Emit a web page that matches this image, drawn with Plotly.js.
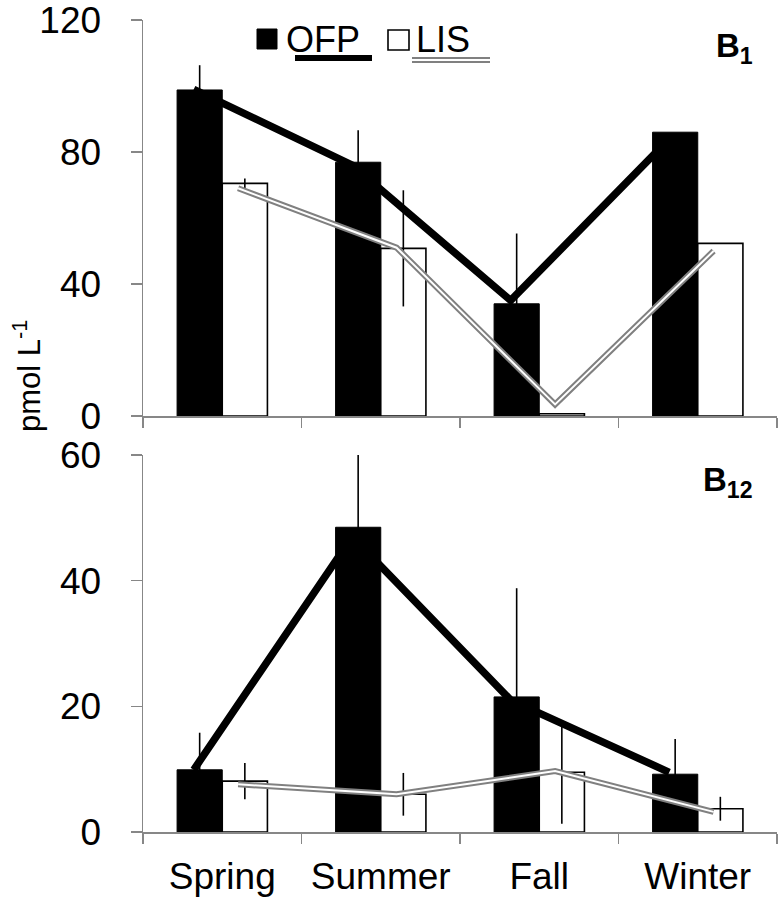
<!DOCTYPE html>
<html>
<head>
<meta charset="utf-8">
<script src="https://cdn.plot.ly/plotly-3.0.1.min.js"></script>
<style>html,body{margin:0;padding:0;background:#fff;}#chart{width:784px;height:904px;}</style>
</head>
<body>
<div id="chart"></div>
<script>
// ---- data ----
const categories = ['Spring', 'Summer', 'Fall', 'Winter'];

// Panel B1 (pmol L-1)
const b1Ofp = [98.8, 76.9, 34.0, 86.0];
const b1OfpErr = [7.5, 9.7, 21.3, 0];
const b1Lis = [70.5, 50.8, 0.7, 52.3];
const b1LisErr = [1.5, 17.6, 0, 0];
const b1OfpLine = [99, 76, 35, 84];
const b1LisLine = [69, 51, 3.5, 50];

// Panel B12 (pmol L-1)
const b12Ofp = [9.9, 48.5, 21.5, 9.2];
const b12OfpErr = [5.9, 11.5, 17.3, 5.6];
const b12Lis = [8.1, 6.0, 9.5, 3.7];
const b12LisErr = [2.9, 3.4, 8.2, 1.9];
const b12OfpLine = [9.9, 47, 21, 9.5];
const b12LisLine = [7.6, 6.0, 9.7, 3.2];

const b1Ticks = [0, 40, 80, 120];
const b12Ticks = [0, 20, 40, 60];

// ---- styling ----
const W = 784, H = 904;
const M = {l: 143, r: 7, t: 20, b: 72};
const FONT = 'Liberation Sans, Arial, sans-serif';
const AXIS = '#878787';
const LISGREY = '#808080';
const ofpShift = -0.18, lisShift = 0.10;
const idx = categories.map((c, i) => i);

function px2x(p) { return (p - M.l) / (W - M.l - M.r); }
function px2y(p) { return (H - M.b - p) / (H - M.t - M.b); }

function barTraces(ofp, ofpErr, lis, lisErr, xa, ya) {
  return [
    {type: 'bar', x: categories, y: ofp, xaxis: xa, yaxis: ya, name: 'OFP', showlegend: false,
     marker: {color: '#000', line: {color: '#000', width: 1}},
     error_y: {type: 'data', array: ofpErr, visible: true, color: '#000', thickness: 1.6, width: 0}},
    {type: 'bar', x: categories, y: lis, xaxis: xa, yaxis: ya, name: 'LIS', showlegend: false,
     marker: {color: '#fff', line: {color: '#000', width: 1.6}},
     error_y: {type: 'data', array: lisErr, visible: true, color: '#000', thickness: 1.6, width: 0}}
  ];
}
function lineTraces(ofpLine, lisLine, xa, ya) {
  return [
    {type: 'scatter', mode: 'lines', x: idx.map(i => i + ofpShift), y: ofpLine, xaxis: xa, yaxis: ya,
     line: {color: '#000', width: 7.5}, showlegend: false, hoverinfo: 'skip'},
    {type: 'scatter', mode: 'lines', x: idx.map(i => i + lisShift), y: lisLine, xaxis: xa, yaxis: ya,
     line: {color: LISGREY, width: 6}, showlegend: false, hoverinfo: 'skip'},
    {type: 'scatter', mode: 'lines', x: idx.map(i => i + lisShift), y: lisLine, xaxis: xa, yaxis: ya,
     line: {color: '#fff', width: 2}, showlegend: false, hoverinfo: 'skip'}
  ];
}

const data = [].concat(
  barTraces(b1Ofp, b1OfpErr, b1Lis, b1LisErr, 'x', 'y'),
  barTraces(b12Ofp, b12OfpErr, b12Lis, b12LisErr, 'x2', 'y2'),
  lineTraces(b1OfpLine, b1LisLine, 'x3', 'y'),
  lineTraces(b12OfpLine, b12LisLine, 'x4', 'y2')
);

const tickFont = {family: FONT, size: 37, color: '#000'};
function catAxis(anchor, labels) {
  return {anchor: anchor, type: 'category', categoryorder: 'array', categoryarray: categories,
    range: [-0.5, 3.5], tickson: 'boundaries', ticks: 'outside', ticklen: 10, tickwidth: 1.5,
    tickcolor: AXIS, showline: true, linecolor: AXIS, linewidth: 1.5, showgrid: false,
    zeroline: false, showticklabels: labels, tickfont: tickFont, ticklabelstandoff: 11,
    ticklabeloverflow: 'allow', fixedrange: true};
}
function valAxis(anchor, dom, rng, tv) {
  return {anchor: anchor, domain: dom, range: rng, tickvals: tv, ticktext: tv.map(String),
    ticks: 'outside', ticklen: 11, tickwidth: 1.5, tickcolor: AXIS, showline: true,
    linecolor: AXIS, linewidth: 1.5, showgrid: false, zeroline: false, tickfont: tickFont,
    ticklabelstandoff: 22, ticklabeloverflow: 'allow', fixedrange: true};
}

const legendShapes = [
  {type: 'rect', xref: 'paper', yref: 'paper', x0: px2x(257), x1: px2x(277), y0: px2y(49), y1: px2y(29),
   fillcolor: '#000', line: {color: '#000', width: 1}},
  {type: 'line', xref: 'paper', yref: 'paper', x0: px2x(295), x1: px2x(372), y0: px2y(58), y1: px2y(58),
   line: {color: '#000', width: 6}},
  {type: 'rect', xref: 'paper', yref: 'paper', x0: px2x(388), x1: px2x(409), y0: px2y(50), y1: px2y(30),
   fillcolor: '#fff', line: {color: '#000', width: 1.6}},
  {type: 'line', xref: 'paper', yref: 'paper', x0: px2x(412), x1: px2x(490), y0: px2y(60), y1: px2y(60),
   line: {color: LISGREY, width: 6}},
  {type: 'line', xref: 'paper', yref: 'paper', x0: px2x(412), x1: px2x(490), y0: px2y(60), y1: px2y(60),
   line: {color: '#fff', width: 2}}
];

const annotations = [
  {text: 'OFP', xref: 'paper', yref: 'paper', x: px2x(284), y: px2y(40), xanchor: 'left', yanchor: 'middle',
   showarrow: false, font: {family: FONT, size: 36, color: '#000'}},
  {text: 'LIS', xref: 'paper', yref: 'paper', x: px2x(414), y: px2y(40), xanchor: 'left', yanchor: 'middle',
   showarrow: false, font: {family: FONT, size: 36, color: '#000'}},
  {text: '<b>B<sub>1</sub></b>', xref: 'paper', yref: 'paper', x: px2x(755), y: px2y(48), xanchor: 'right',
   yanchor: 'middle', showarrow: false, font: {family: FONT, size: 33, color: '#000'}},
  {text: '<b>B<sub>12</sub></b>', xref: 'paper', yref: 'paper', x: px2x(755), y: px2y(482), xanchor: 'right',
   yanchor: 'middle', showarrow: false, font: {family: FONT, size: 33, color: '#000'}},
  {text: 'pmol L<sup>-1</sup>', xref: 'paper', yref: 'paper', x: px2x(27), y: px2y(376), xanchor: 'center',
   yanchor: 'middle', textangle: -90, showarrow: false, font: {family: FONT, size: 31, color: '#000'}}
];

const layout = {
  width: W, height: H, margin: M, paper_bgcolor: '#fff', plot_bgcolor: '#fff',
  font: {family: FONT, color: '#000'},
  showlegend: false, barmode: 'group', bargap: 0.43, bargroupgap: 0,
  xaxis: catAxis('y', false),
  xaxis2: catAxis('y2', true),
  xaxis3: {overlaying: 'x', anchor: 'y', range: [-0.5, 3.5], visible: false, fixedrange: true},
  xaxis4: {overlaying: 'x2', anchor: 'y2', range: [-0.5, 3.5], visible: false, fixedrange: true},
  yaxis: valAxis('x', [px2y(416), px2y(20)], [0, 120], b1Ticks),
  yaxis2: valAxis('x2', [0, px2y(455)], [0, 60], b12Ticks),
  shapes: legendShapes,
  annotations: annotations
};

Plotly.newPlot('chart', data, layout, {staticPlot: true, displayModeBar: false});
</script>
</body>
</html>
